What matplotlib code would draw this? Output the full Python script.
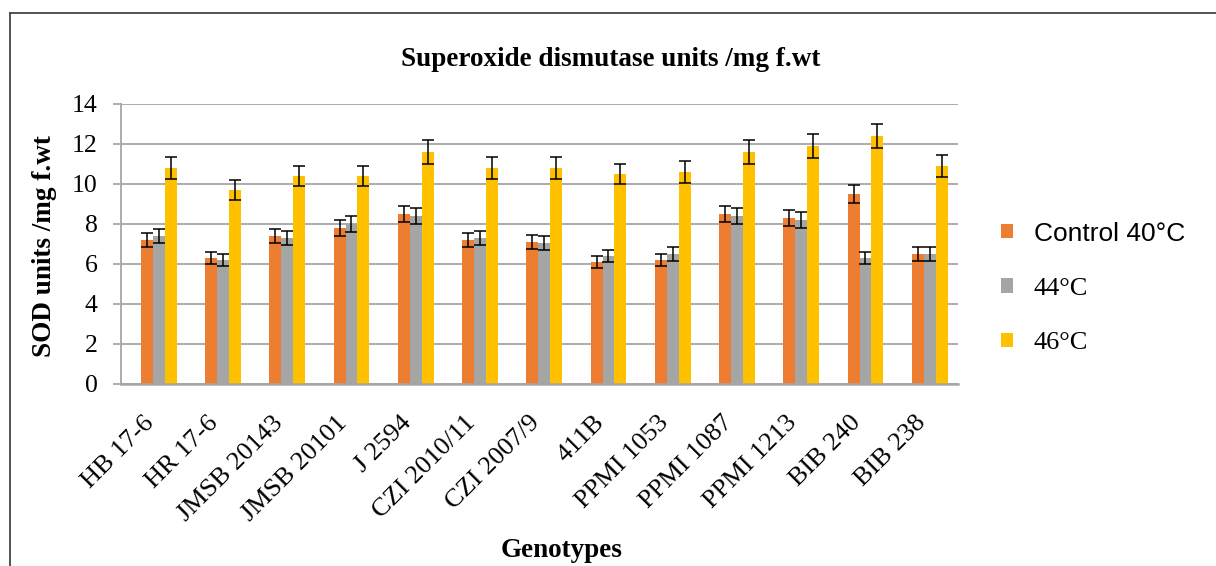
import matplotlib
matplotlib.use("Agg")
import matplotlib.pyplot as plt
from matplotlib.patches import Patch
from matplotlib.lines import Line2D
import numpy as np

genotypes = ['HB 17-6', 'HR 17-6', 'JMSB 20143', 'JMSB 20101', 'J 2594',
             'CZI 2010/11', 'CZI 2007/9', '411B', 'PPMI 1053', 'PPMI 1087',
             'PPMI 1213', 'BIB 240', 'BIB 238']

control_40 = [7.2, 6.3, 7.4, 7.8, 8.5, 7.2, 7.1, 6.1, 6.2, 8.5, 8.3, 9.5, 6.5]
heat_44 = [7.4, 6.2, 7.3, 8.0, 8.4, 7.3, 7.05, 6.4, 6.5, 8.4, 8.2, 6.3, 6.5]
heat_46 = [10.8, 9.7, 10.4, 10.4, 11.6, 10.8, 10.8, 10.5, 10.6, 11.6, 11.9, 12.4, 10.9]

err_40 = [0.36, 0.32, 0.37, 0.39, 0.42, 0.36, 0.36, 0.31, 0.31, 0.42, 0.41, 0.47, 0.33]
err_44 = [0.37, 0.31, 0.37, 0.40, 0.42, 0.36, 0.35, 0.32, 0.33, 0.42, 0.41, 0.32, 0.33]
err_46 = [0.54, 0.49, 0.52, 0.52, 0.58, 0.54, 0.54, 0.52, 0.53, 0.58, 0.60, 0.62, 0.54]

labels = ['Control 40°C', '44°C', '46°C']
colors = ['#ED7D31', '#A5A5A5', '#FFC000']

serif = ['Liberation Serif', 'DejaVu Serif']
sans = ['Liberation Sans', 'DejaVu Sans']
grid_col = '#A6A6A6'

fig = plt.figure(figsize=(12.16, 5.66), dpi=100)
ax = fig.add_axes([121/1216, 1 - 384/566, 837/1216, 280/566])

x = np.arange(len(genotypes))
w = 0.185
series = [(control_40, err_40), (heat_44, err_44), (heat_46, err_46)]
for i, (vals, errs) in enumerate(series):
    ax.bar(x + (i - 1) * w, vals, width=w, color=colors[i], zorder=2)
    ax.errorbar(x + (i - 1) * w, vals, yerr=errs, fmt='none', ecolor='black',
                elinewidth=1.1, capsize=4.3, capthick=1.1, zorder=3)

ax.set_xlim(-0.587, 12.44)
ax.set_ylim(0, 14)
ax.set_yticks(np.arange(0, 15, 2))
ax.yaxis.grid(True, color=grid_col, linewidth=1.3, zorder=0)
ax.set_axisbelow(True)
for s in ['top', 'right']:
    ax.spines[s].set_visible(False)
ax.spines['left'].set_color(grid_col)
ax.spines['left'].set_linewidth(1.3)
ax.spines['bottom'].set_color(grid_col)
ax.spines['bottom'].set_linewidth(1.8)
ax.tick_params(axis='y', length=6, width=1.3, color=grid_col, pad=11,
               labelsize=18.5)
ax.tick_params(axis='x', length=0, pad=20, labelsize=19)
for t in ax.get_yticklabels():
    t.set_fontfamily(serif)
ax.set_xticks(x)
ax.set_xticklabels(genotypes, rotation=45, ha='right', fontfamily=serif)

fig.text(611/1216, 1 - 60/566, 'Superoxide dismutase units /mg f.wt',
         ha='center', va='center', fontsize=19.5, fontweight='bold',
         fontfamily=serif)
fig.text(45/1216, 1 - 246/566, 'SOD units /mg f.wt', rotation=90,
         ha='center', va='center', fontsize=19.5, fontweight='bold',
         fontfamily=serif)
fig.text(562/1216, 1 - 538/566, 'Genotypes', ha='center', va='top',
         fontsize=19.5, fontweight='bold', fontfamily=serif)

handles = [Patch(facecolor=c, edgecolor='none') for c in colors]
leg = fig.legend(handles, labels, loc='upper left',
                 bbox_to_anchor=(977/1216, 1 - 198/566), frameon=False,
                 prop={'family': sans, 'size': 19}, handlelength=0.45,
                 handleheight=0.45, handletextpad=0.8, labelspacing=1.22)
for t in leg.get_texts()[1:]:
    t.set_fontfamily(serif)

# outer border lines (left and top only)
fig.add_artist(Line2D([9.5/1216, 9.5/1216], [0, 1 - 12.5/566],
                      transform=fig.transFigure, color='#444444', linewidth=1.3))
fig.add_artist(Line2D([9.5/1216, 1], [1 - 12.5/566, 1 - 12.5/566],
                      transform=fig.transFigure, color='#444444', linewidth=1.3))

fig.savefig('out.png', dpi=100)
